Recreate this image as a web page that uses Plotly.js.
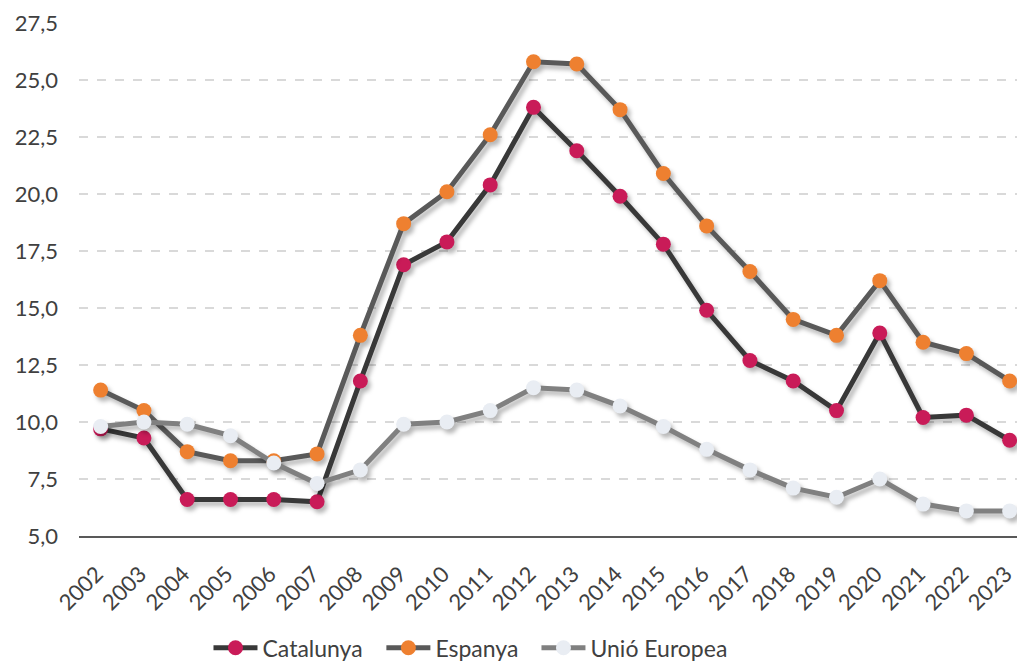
<!DOCTYPE html>
<html>
<head>
<meta charset="utf-8">
<script src="https://cdn.plot.ly/plotly-3.0.1.min.js"></script>
<style>
  body { margin: 0; background: #fff; }
  #chart { width: 1017px; height: 661px; }
  /* soft drop shadow under the lines, like the original */
  #chart .scatterlayer .trace { filter: drop-shadow(3px 4px 2px rgba(0,0,0,0.28)); }
  /* nudge the slanted year labels left so 2023 is not cut at the edge */
  #chart .xaxislayer-above { transform: translate(-4px, 1px); }
</style>
</head>
<body>
<div id="chart"></div>
<script>
const years = ['2002', '2003', '2004', '2005', '2006', '2007', '2008', '2009', '2010', '2011',
    '2012', '2013', '2014', '2015', '2016', '2017', '2018', '2019', '2020', '2021', '2022', '2023'];

const catalunya = [9.7, 9.3, 6.6, 6.6, 6.6, 6.5, 11.8, 16.9, 17.9, 20.4,
    23.8, 21.9, 19.9, 17.8, 14.9, 12.7, 11.8, 10.5, 13.9, 10.2, 10.3, 9.2];
const espanya = [11.4, 10.5, 8.7, 8.3, 8.3, 8.6, 13.8, 18.7, 20.1, 22.6,
    25.8, 25.7, 23.7, 20.9, 18.6, 16.6, 14.5, 13.8, 16.2, 13.5, 13.0, 11.8];
const ue = [9.8, 10.0, 9.9, 9.4, 8.2, 7.3, 7.9, 9.9, 10.0, 10.5,
    11.5, 11.4, 10.7, 9.8, 8.8, 7.9, 7.1, 6.7, 7.5, 6.4, 6.1, 6.1];

const yTicks = [5, 7.5, 10, 12.5, 15, 17.5, 20, 22.5, 25, 27.5];
const yTickText = ['5,0', '7,5', '10,0', '12,5', '15,0', '17,5', '20,0', '22,5', '25,0', '27,5'];

const font = 'Lato, "Open Sans", sans-serif';

function serie(name, values, lineColor, markerColor, legendId) {
    return {
        x: years,
        y: values,
        name: name,
        legend: legendId,
        type: 'scatter',
        mode: 'lines+markers',
        line: { color: lineColor, width: 5 },
        marker: { color: markerColor, size: 15 },
        cliponaxis: false
    };
}

const data = [
    serie('Catalunya', catalunya, '#383838', '#c91b58', 'legend'),
    serie('Espanya', espanya, '#595959', '#ee8030', 'legend2'),
    serie('Unió Europea', ue, '#808080', '#e9edf3', 'legend3')
];

// one small legend box per series, so the gaps match the original
function legendAt(x) {
    return {
        orientation: 'h',
        xref: 'container', yref: 'container',
        x: x, xanchor: 'left',
        y: 0.02, yanchor: 'middle',
        font: { family: font, size: 23, color: '#404040' },
        itemwidth: 44
    };
}

const layout = {
    width: 1017,
    height: 661,
    margin: { l: 79, r: 0, t: 23, b: 125 },
    paper_bgcolor: '#ffffff',
    plot_bgcolor: '#ffffff',
    font: { family: font, size: 22, color: '#404040' },
    showlegend: true,
    legend: legendAt(0.205),
    legend2: legendAt(0.375),
    legend3: legendAt(0.5275),
    xaxis: {
        type: 'category',
        range: [-0.5, 21.17],
        tickangle: -45,
        automargin: false,
        showgrid: false,
        showline: true,
        linecolor: '#595959',
        linewidth: 1.5,
        ticks: '',
        ticklabelstandoff: 14,
        tickfont: { family: font, size: 22, color: '#404040' }
    },
    yaxis: {
        range: [5, 27.5],
        tickvals: yTicks,
        ticktext: yTickText,
        automargin: false,
        showgrid: true,
        gridcolor: '#d9d9d9',
        gridwidth: 1.5,
        griddash: 'dash',
        zeroline: false,
        showline: false,
        ticks: '',
        ticklabelstandoff: 20,
        tickfont: { family: font, size: 22, color: '#404040' }
    }
};

Plotly.newPlot('chart', data, layout, { displayModeBar: false, staticPlot: true });
</script>
</body>
</html>
